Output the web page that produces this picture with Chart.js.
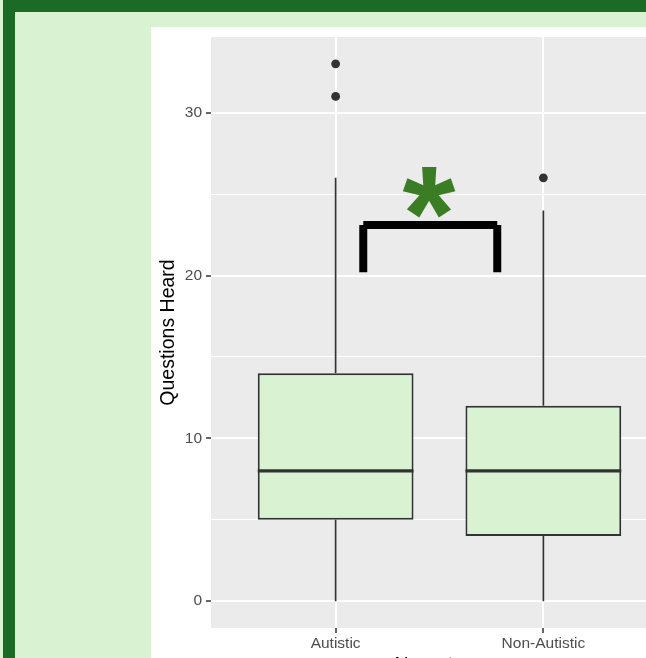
<!DOCTYPE html>
<html>
<head>
<meta charset="utf-8">
<script src="https://cdn.jsdelivr.net/npm/chart.js@4.4.1/dist/chart.umd.min.js"></script>
<style>
  html, body { margin: 0; padding: 0; }
  body { width: 646px; height: 658px; overflow: hidden; position: relative; background: #d9f2d2; }
  #bandTop { position: absolute; left: 3px; top: 0; width: 643px; height: 12px; background: #1b6b27; }
  #bandLeft { position: absolute; left: 3px; top: 0; width: 12px; height: 658px; background: #1b6b27; }
  #panel { position: absolute; left: 151px; top: 27px; width: 495px; height: 631px; background: #ffffff; overflow: hidden; }
  #chart { position: absolute; left: 0; top: 0; }
</style>
</head>
<body>
<div id="bandTop"></div>
<div id="bandLeft"></div>
<div id="panel"><canvas id="chart" width="560" height="660"></canvas></div>
<script>
// Questions heard, by neurotype: box-plot summaries
const groups = ['Autistic', 'Non-Autistic'];
const lowerWhisker = [0, 0];
const q1 = [5, 4];
const median = [8, 8];
const q3 = [14, 12];
const upperWhisker = [26, 24];

// points beyond the whiskers
const outlierGroup = [1, 1, 2];
const outlierValue = [31, 33, 26];

// axis ticks
const yTicks = [0, 10, 20, 30];
const yMinorTicks = [5, 15, 25];

// significance bracket between the two groups (data units)
const bracketX = [1.133, 1.778];
const bracketY = [20.2, 23.1];
const starLabel = '*';
const starAt = { x: 1.449, y: 25.1 };

const FONT = '"Liberation Sans", Arial, Helvetica, sans-serif';
const BOX_HALF = 0.375;
const INK = '#333333';

const isMajor = v => yTicks.includes(v);

const panelBackground = {
  id: 'panelBackground',
  beforeDraw(chart) {
    const { ctx, chartArea: a } = chart;
    ctx.save();
    ctx.fillStyle = '#ebebeb';
    ctx.fillRect(a.left, a.top, a.right - a.left, a.bottom - a.top);
    ctx.restore();
  }
};

const boxParts = {
  id: 'boxParts',
  afterDatasetsDraw(chart) {
    const { ctx, scales: { x, y } } = chart;
    ctx.save();
    ctx.strokeStyle = INK;
    ctx.lineCap = 'butt';
    groups.forEach((g, i) => {
      const cx = x.getPixelForValue(i + 1);
      // whiskers
      ctx.lineWidth = 1.7;
      ctx.beginPath();
      ctx.moveTo(cx, y.getPixelForValue(q3[i]));
      ctx.lineTo(cx, y.getPixelForValue(upperWhisker[i]));
      ctx.moveTo(cx, y.getPixelForValue(q1[i]));
      ctx.lineTo(cx, y.getPixelForValue(lowerWhisker[i]));
      ctx.stroke();
      // median
      ctx.lineWidth = 3.4;
      ctx.beginPath();
      const my = y.getPixelForValue(median[i]);
      ctx.moveTo(x.getPixelForValue(i + 1 - BOX_HALF), my);
      ctx.lineTo(x.getPixelForValue(i + 1 + BOX_HALF), my);
      ctx.stroke();
    });
    ctx.restore();
  }
};

const significance = {
  id: 'significance',
  afterDatasetsDraw(chart) {
    const { ctx, scales: { x, y } } = chart;
    const xl = x.getPixelForValue(bracketX[0]);
    const xr = x.getPixelForValue(bracketX[1]);
    const yb = y.getPixelForValue(bracketY[0]);
    const yt = y.getPixelForValue(bracketY[1]);
    ctx.save();
    ctx.strokeStyle = '#000000';
    ctx.lineWidth = 8;
    ctx.lineCap = 'butt';
    [[xl, yt, xr, yt], [xl, yt, xl, yb], [xr, yt, xr, yb]].forEach(([a, b, c, d]) => {
      ctx.beginPath();
      ctx.moveTo(a, b);
      ctx.lineTo(c, d);
      ctx.stroke();
    });
    ctx.font = 'bold 136px ' + FONT;
    ctx.fillStyle = '#3b7d24';
    ctx.textAlign = 'left';
    ctx.textBaseline = 'alphabetic';
    const m = ctx.measureText(starLabel);
    const gx = x.getPixelForValue(starAt.x);
    const gy = y.getPixelForValue(starAt.y);
    ctx.fillText(starLabel,
      gx - (m.actualBoundingBoxRight - m.actualBoundingBoxLeft) / 2,
      gy + (m.actualBoundingBoxAscent - m.actualBoundingBoxDescent) / 2);
    ctx.restore();
  }
};

new Chart(document.getElementById('chart'), {
  type: 'bar',
  data: {
    datasets: [
      {
        type: 'bar',
        data: groups.map((g, i) => ({ x: i + 1, y: [q1[i], q3[i]] })),
        backgroundColor: '#d9f2d2',
        borderColor: INK,
        borderWidth: 2,
        borderSkipped: false,
        barPercentage: 0.75,
        categoryPercentage: 1
      },
      {
        type: 'scatter',
        data: outlierValue.map((v, i) => ({ x: outlierGroup[i], y: v })),
        pointRadius: 4.4,
        pointBackgroundColor: INK,
        pointBorderWidth: 0
      }
    ]
  },
  options: {
    responsive: false,
    animation: false,
    events: [],
    layout: { padding: { top: 10, right: 43, bottom: 0, left: 0 } },
    plugins: { legend: { display: false }, tooltip: { enabled: false } },
    scales: {
      x: {
        type: 'linear',
        offset: false,
        min: 0.4,
        max: 2.6,
        afterBuildTicks: s => { s.ticks = groups.map((g, i) => ({ value: i + 1 })); },
        afterFit: s => { s.height = 59; s.paddingLeft = 0; s.paddingRight = 0; },
        border: { display: false },
        grid: { offset: false, color: '#ffffff', lineWidth: 2, tickColor: INK, tickLength: 5, tickWidth: 1.5 },
        ticks: {
          autoSkip: false, maxRotation: 0, padding: 1, color: '#4d4d4d',
          font: { family: FONT, size: 15.5 },
          callback: v => groups[Math.round(v) - 1] || ''
        },
        title: {
          display: true, text: 'Neurotype', color: '#000000',
          font: { family: FONT, size: 19.5 }, padding: { top: 0, bottom: 9.5 }
        }
      },
      y: {
        type: 'linear',
        min: -1.65,
        max: 34.65,
        afterBuildTicks: s => {
          s.ticks = [...yTicks, ...yMinorTicks].sort((a, b) => a - b).map(v => ({ value: v }));
        },
        afterFit: s => { s.width = 60; s.paddingTop = 0; s.paddingBottom = 0; },
        border: { display: false },
        grid: {
          color: '#ffffff',
          lineWidth: c => (c.tick && isMajor(c.tick.value)) ? 2 : 1,
          tickColor: c => (c.tick && isMajor(c.tick.value)) ? INK : 'rgba(0,0,0,0)',
          tickLength: 5,
          tickWidth: 1.5
        },
        ticks: {
          autoSkip: false, padding: 4, color: '#4d4d4d',
          font: { family: FONT, size: 15.5 },
          callback: v => isMajor(v) ? String(v) : ''
        },
        title: {
          display: true, text: 'Questions Heard', color: '#000000',
          font: { family: FONT, size: 19.5 }, padding: { top: 5.5, bottom: 0 }
        }
      }
    }
  },
  plugins: [panelBackground, boxParts, significance]
});
</script>
</body>
</html>
